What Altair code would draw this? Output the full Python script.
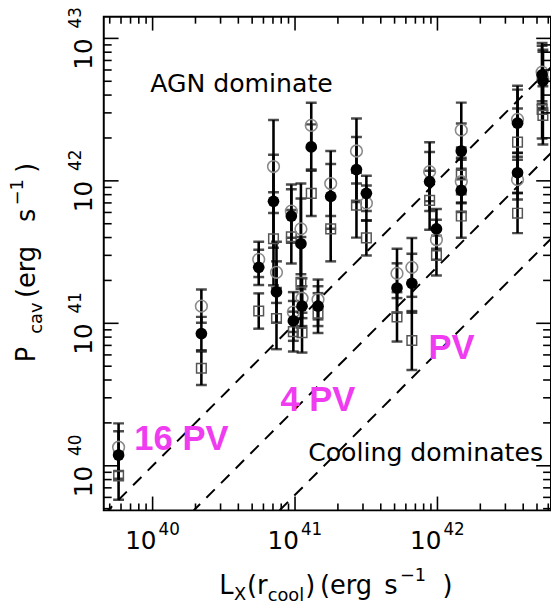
import altair as alt
import pandas as pd

# ---------------- data ----------------
LX = [5.77e39, 2.20e40, 5.56e40, 7.06e40, 7.41e40, 9.42e40, 9.73e40, 1.10e41,
      1.12e41, 1.30e41, 1.45e41, 1.78e41, 2.70e41, 3.17e41, 5.20e41, 6.61e41,
      8.81e41, 9.84e41, 1.47e42, 1.47e42, 3.65e42, 3.65e42, 5.43e42, 5.50e42]
P_FILLED = [1.19e40, 8.47e40, 2.47e41, 7.19e41, 1.66e41, 5.66e41, 1.04e41, 3.62e41,
            1.32e41, 1.73e42, 1.32e41, 7.78e41, 1.20e42, 8.17e41, 1.77e41, 1.91e41,
            9.89e41, 4.60e41, 1.62e42, 8.57e41, 2.54e42, 1.14e42, 5.54e42, 5.04e42]
P_OPEN = [1.35e40, 1.32e41, 2.81e41, 1.26e42, 2.28e41, 6.13e41, 1.20e41, 4.60e41,
          1.50e41, 2.45e42, 1.47e41, 9.58e41, 1.62e42, 6.97e41, 2.24e41, 2.47e41,
          1.16e42, 3.86e41, 2.27e42, 9.89e41, 2.70e42, 1.02e42, 5.80e42, 5.20e42]
P_SQUARE = [8.50e39, 4.84e40, 1.22e41, 3.92e41, 1.08e41, 4.05e41, 8.75e40, 1.94e41,
            8.60e40, 8.17e41, 1.18e41, 4.60e41, 6.75e41, 3.98e41, 1.11e41, 7.57e40,
            7.30e41, 2.99e41, 1.10e42, 5.66e41, 1.87e42, 5.93e41, 3.17e42, 2.88e42]
ERR_FACTOR = [1.47, 1.31, 1.33, 2.12, 1.64, 1.54, 1.38, 2.08, 1.38, 1.44, 1.38, 1.69,
              1.69, 1.33, 1.49, 1.61, 1.61, 1.38, 1.56, 1.42, 1.72, 1.38, 1.60, 1.60]

LINE_FACTORS = [1.0, 0.25, 0.0625]          # P = L, L/4, L/16
X_DOMAIN = [4.54e39, 6.27e42]
Y_DOMAIN = [4.864e39, 1.419e43]
X_DECADES = [1e40, 1e41, 1e42]
X_EXP = ["40", "41", "42"]
Y_DECADES = [1e40, 1e41, 1e42, 1e43]
Y_EXP = ["40", "41", "42", "43"]

W, H = 453, 500
FONT = "DejaVu Sans"

# ---------------- tables ----------------
rows = []
for i, x in enumerate(LX):
    f = ERR_FACTOR[i]
    for kind, arr in (("square", P_SQUARE), ("open", P_OPEN), ("filled", P_FILLED)):
        v = arr[i]
        rows.append({"lx": x, "p": v, "lo": v / f, "hi": v * f, "kind": kind})
pts = pd.DataFrame(rows)

lines = pd.DataFrame([{"lx": X_DOMAIN[k], "p": X_DOMAIN[k] * fac, "fac": str(fac)}
                      for fac in LINE_FACTORS for k in (0, 1)])

def tick_values(lo, hi):
    out = []
    for n in range(39, 44):
        for m in range(1, 10):
            v = m * 10.0 ** n
            if lo <= v <= hi:
                out.append({"v": v, "major": m == 1})
    return pd.DataFrame(out)

xt = tick_values(*X_DOMAIN)
yt = tick_values(*Y_DOMAIN)

xs = alt.Scale(type="log", domain=X_DOMAIN, nice=False)
ys = alt.Scale(type="log", domain=Y_DOMAIN, nice=False)
X = alt.X("lx:Q", scale=xs, axis=None)
Y = alt.Y("p:Q", scale=ys, axis=None)

base = alt.Chart(pts)

dashes = alt.Chart(lines).mark_line(color="black", strokeWidth=2, strokeDash=[12, 9], clip=True).encode(
    x=X, y=Y, detail="fac:N")

bars = base.mark_rule(color="black", strokeWidth=2.6, clip=True).encode(
    x=X, y=alt.Y("lo:Q", scale=ys, axis=None), y2="hi:Q")
caps_lo = base.mark_tick(color="black", orient="horizontal", size=11, thickness=2.5, clip=True).encode(
    x=X, y=alt.Y("lo:Q", scale=ys, axis=None))
caps_hi = base.mark_tick(color="black", orient="horizontal", size=11, thickness=2.5, clip=True).encode(
    x=X, y=alt.Y("hi:Q", scale=ys, axis=None))

squares = base.transform_filter("datum.kind == 'square'").mark_point(
    shape="square", size=95, filled=False, stroke="#555555", strokeWidth=1.5, opacity=1, clip=True).encode(x=X, y=Y)
opens = base.transform_filter("datum.kind == 'open'").mark_point(
    shape="circle", size=140, filled=False, stroke="#8a8a8a", strokeWidth=1.6, opacity=1, clip=True).encode(x=X, y=Y)
filled = base.transform_filter("datum.kind == 'filled'").mark_point(
    shape="circle", size=140, filled=True, fill="black", opacity=1, clip=True).encode(x=X, y=Y)

# ---------------- frame ticks ----------------
def xticks(df, top):
    out = []
    for major, L in ((True, 14), (False, 7)):
        d = df[df["major"] == major]
        if top:
            yv, y2v = 0, L
        else:
            yv, y2v = H, H - L
        out.append(alt.Chart(d).mark_rule(color="black", strokeWidth=1.6).encode(
            x=alt.X("v:Q", scale=xs, axis=None), y=alt.value(yv), y2=alt.value(y2v)))
    return out

def yticks(df, right):
    out = []
    for major, L in ((True, 15), (False, 8)):
        d = df[df["major"] == major]
        if right:
            xv, x2v = W, W - L
        else:
            xv, x2v = 0, L
        out.append(alt.Chart(d).mark_rule(color="black", strokeWidth=1.6).encode(
            y=alt.Y("v:Q", scale=ys, axis=None), x=alt.value(xv), x2=alt.value(x2v)))
    return out

tick_layers = xticks(xt, False) + xticks(xt, True) + yticks(yt, False) + yticks(yt, True)

# ---------------- tick labels ----------------
xlab = pd.DataFrame({"v": X_DECADES, "e": X_EXP, "t": ["10"] * 3})
ylab = pd.DataFrame({"v": Y_DECADES, "e": Y_EXP, "t": ["10"] * 4})

x10 = alt.Chart(xlab).mark_text(font=FONT, fontSize=25, align="right", baseline="alphabetic", dx=4).encode(
    x=alt.X("v:Q", scale=xs, axis=None), y=alt.value(H + 39), text="t:N")
xexp = alt.Chart(xlab).mark_text(font=FONT, fontSize=17, align="left", baseline="alphabetic", dx=6).encode(
    x=alt.X("v:Q", scale=xs, axis=None), y=alt.value(H + 25), text="e:N")
y10 = alt.Chart(ylab).mark_text(font=FONT, fontSize=25, align="right", baseline="alphabetic", angle=270, dx=0).encode(
    y=alt.Y("v:Q", scale=ys, axis=None), x=alt.value(-12), text="t:N")
yexp = alt.Chart(ylab).mark_text(font=FONT, fontSize=17, align="left", baseline="alphabetic", angle=270, dx=10).encode(
    y=alt.Y("v:Q", scale=ys, axis=None), x=alt.value(-23), text="e:N")

# ---------------- axis titles (pieces with sub/superscripts) ----------------
xtitle = pd.DataFrame([
    ("L", 117, 585, 26), ("X", 132, 591, 18), ("(r", 145, 585, 26),
    ("cool", 166, 592, 18), (")", 204, 585, 26), ("(erg", 219, 585, 26), ("s", 284, 585, 26),
    ("\u22121", 300, 572, 18), (")", 343, 585, 26)],
    columns=["t", "px", "py", "fs"])
ytitle = pd.DataFrame([
    ("P", -70, 350, 26), ("cav", -63, 321, 18), ("(erg", -70, 285, 26), ("s", -70, 208, 26),
    ("\u22121", -82, 191, 18), (")", -70, 158, 26)],
    columns=["t", "px", "py", "fs"])

xt_l = alt.Chart(xtitle).mark_text(font=FONT, align="left", baseline="alphabetic").encode(
    x=alt.X("px:Q", scale=None), y=alt.Y("py:Q", scale=None), size=alt.Size("fs:Q", scale=None, legend=None), text="t:N")
yt_l = alt.Chart(ytitle).mark_text(font=FONT, align="left", baseline="alphabetic", angle=270).encode(
    x=alt.X("px:Q", scale=None), y=alt.Y("py:Q", scale=None), size=alt.Size("fs:Q", scale=None, legend=None), text="t:N")

# ---------------- annotations ----------------
notes = pd.DataFrame([("AGN dominate", 47, 76), ("Cooling dominates", 207, 450)], columns=["t", "px", "py"])
notes_l = alt.Chart(notes).mark_text(font=FONT, fontSize=25.5, align="left", baseline="alphabetic").encode(
    x=alt.X("px:Q", scale=None), y=alt.Y("py:Q", scale=None), text="t:N")
pv = pd.DataFrame([("16 PV", 31, 439), ("4 PV", 179, 399), ("PV", 329, 347)], columns=["t", "px", "py"])
pv_l = alt.Chart(pv).mark_text(font="Liberation Sans", fontSize=35, fontWeight="bold", color="#f03cf0",
                               align="left", baseline="alphabetic").encode(
    x=alt.X("px:Q", scale=None), y=alt.Y("py:Q", scale=None), text="t:N")

chart = alt.layer(
    dashes, bars, caps_lo, caps_hi, squares, opens, filled,
    *tick_layers, x10, xexp, y10, yexp, xt_l, yt_l, notes_l, pv_l
).properties(
    width=W, height=H,
    autosize=alt.AutoSizeParams(type="none"),
    padding={"left": 97, "top": 5, "right": 0, "bottom": 92},
    background="white",
).configure_view(stroke="black", strokeWidth=2)

chart.save("out.html", embed_options={"renderer": "svg", "actions": False})
